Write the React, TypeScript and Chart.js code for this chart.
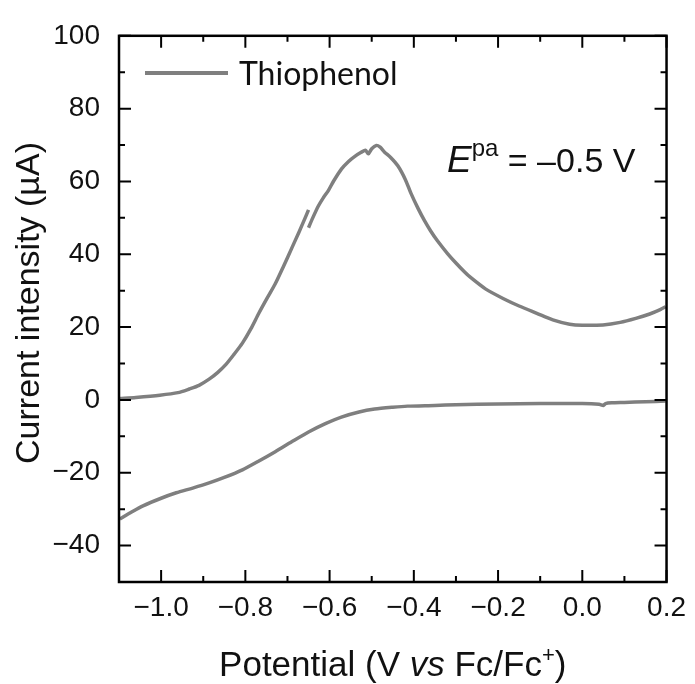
import React, { useEffect, useRef } from 'react';
import { Chart, registerables } from 'chart.js';

Chart.register(...registerables);

// Forward (anodic) scan: starts at -0.65 V, runs to +0.2 V
const anodicX = [-0.650, -0.640, -0.627, -0.615, -0.603, -0.590, -0.572, -0.555, -0.540, -0.525, -0.515, -0.508, -0.500, -0.489, -0.480, -0.470, -0.455, -0.438, -0.420, -0.407, -0.390, -0.375, -0.360, -0.344, -0.320, -0.300, -0.280, -0.266, -0.230, -0.187, -0.150, -0.108, -0.070, -0.030, 0.000, 0.049, 0.090, 0.127, 0.160, 0.185, 0.198];
const anodicY = [47.3, 50.0, 53.2, 55.5, 57.5, 60.2, 63.4, 65.5, 66.9, 68.0, 68.6, 67.6, 69.0, 69.9, 69.4, 68.1, 66.6, 64.3, 60.5, 56.8, 52.6, 49.3, 46.4, 43.7, 40.2, 37.6, 35.2, 33.7, 30.5, 27.8, 25.8, 23.8, 22.0, 20.8, 20.5, 20.6, 21.3, 22.4, 23.6, 24.8, 25.6];

// Reverse (cathodic) scan: +0.2 V back to -1.1 V
const cathodicX = [0.198, 0.150, 0.100, 0.070, 0.055, 0.050, 0.040, 0.000, -0.100, -0.200, -0.300, -0.350, -0.415, -0.450, -0.493, -0.530, -0.572, -0.610, -0.650, -0.690, -0.729, -0.770, -0.807, -0.850, -0.886, -0.925, -0.964, -1.000, -1.043, -1.070, -1.098];
const cathodicY = [-0.3, -0.5, -0.7, -0.8, -1.0, -1.5, -1.2, -1.0, -1.0, -1.1, -1.3, -1.5, -1.7, -2.0, -2.5, -3.3, -4.7, -6.5, -8.8, -11.5, -14.2, -16.9, -19.2, -21.3, -22.8, -24.2, -25.5, -27.0, -29.1, -30.8, -32.7];

// Final forward scan: -1.1 V up to -0.65 V
const returnX = [-1.098, -1.060, -1.003, -0.960, -0.933, -0.910, -0.886, -0.866, -0.846, -0.827, -0.807, -0.787, -0.768, -0.749, -0.729, -0.709, -0.689, -0.673, -0.658, -0.650];
const returnY = [0.4, 0.7, 1.3, 2.0, 3.0, 4.0, 5.7, 7.5, 9.75, 12.5, 15.6, 19.5, 23.8, 27.8, 31.9, 36.8, 41.9, 46.0, 50.0, 52.2];

const xMajorTicks = [-1.0, -0.8, -0.6, -0.4, -0.2, 0.0, 0.2];
const xMinorTicks = [-0.9, -0.7, -0.5, -0.3, -0.1, 0.1];
const yMajorTicks = [-40, -20, 0, 20, 40, 60, 80, 100];
const yMinorTicks = [-30, -10, 10, 30, 50, 70, 90];

const seriesName = 'Thiophenol';
const xTitle = 'Potential (V vs Fc/Fc+)';
const yTitle = 'Current intensity (\u00b5A)';
const annotation = 'Epa = \u20130.5 V';

const LINE_COLOR = '#7f7f7f';
const FONT = '"Liberation Sans", Arial, sans-serif';

const pts = (xs: number[], ys: number[]) => xs.map((x, i) => ({ x, y: ys[i] }));
const fmt = (v: number, d: number) => (v < 0 ? '\u2212' : '') + Math.abs(v).toFixed(d);

type Seg = { t: string; f: string; dy?: number };
function drawRich(ctx: CanvasRenderingContext2D, segs: Seg[], x: number, y: number, align: 'left' | 'center') {
  let total = 0;
  for (const s of segs) { ctx.font = s.f; total += ctx.measureText(s.t).width; }
  let cx = align === 'center' ? x - total / 2 : x;
  ctx.textAlign = 'left';
  ctx.textBaseline = 'alphabetic';
  for (const s of segs) {
    ctx.font = s.f;
    ctx.fillText(s.t, cx, y + (s.dy || 0));
    cx += ctx.measureText(s.t).width;
  }
}

const framePlugin = {
  id: 'frame',
  afterDraw(chart: any) {
    const { ctx, chartArea: a, scales } = chart;
    const xs = scales.x, ys = scales.y;
    ctx.save();
    ctx.strokeStyle = '#000';
    ctx.lineWidth = 2.5;
    ctx.strokeRect(a.left, a.top, a.right - a.left, a.bottom - a.top);
    ctx.lineWidth = 2;
    const tick = (vals: number[], len: number) => {
      for (const v of vals) {
        const px = xs.getPixelForValue(v);
        ctx.beginPath();
        ctx.moveTo(px, a.bottom); ctx.lineTo(px, a.bottom - len);
        ctx.moveTo(px, a.top); ctx.lineTo(px, a.top + len);
        ctx.stroke();
      }
    };
    const ytick = (vals: number[], len: number) => {
      for (const v of vals) {
        const py = ys.getPixelForValue(v);
        ctx.beginPath();
        ctx.moveTo(a.left, py); ctx.lineTo(a.left + len, py);
        ctx.moveTo(a.right, py); ctx.lineTo(a.right - len, py);
        ctx.stroke();
      }
    };
    tick(xMajorTicks, 12); tick(xMinorTicks, 6);
    ytick(yMajorTicks, 12); ytick(yMinorTicks, 6);

    // legend
    ctx.strokeStyle = LINE_COLOR;
    ctx.lineWidth = 4;
    ctx.beginPath(); ctx.moveTo(145, 73); ctx.lineTo(228, 73); ctx.stroke();
    ctx.fillStyle = '#111';
    ctx.font = '32px Lato, "Open Sans", sans-serif';
    ctx.textAlign = 'left'; ctx.textBaseline = 'alphabetic';
    ctx.fillText(seriesName, 239, 85);

    // annotation E^pa = -0.5 V
    const ann = annotation.split(' = ');
    drawRich(ctx, [
      { t: ann[0].charAt(0), f: 'italic 37px ' + FONT },
      { t: ann[0].slice(1), f: '24px ' + FONT, dy: -16 },
      { t: ' = ' + ann[1], f: '34px ' + FONT },
    ], 447, 172, 'left');

    // x title
    const m = xTitle.match(/^(.*\()(V )(vs)( Fc\/Fc)(\+)(\))$/);
    if (m) {
      drawRich(ctx, [
        { t: m[1] + m[2], f: '35px ' + FONT },
        { t: m[3], f: 'italic 35px ' + FONT },
        { t: m[4], f: '35px ' + FONT },
        { t: m[5], f: '22px ' + FONT, dy: -14 },
        { t: m[6], f: '35px ' + FONT },
      ], (a.left + a.right) / 2, 676, 'center');
    }

    // y title
    ctx.save();
    ctx.translate(39, 303);
    ctx.rotate(-Math.PI / 2);
    ctx.font = '34px ' + FONT;
    ctx.textAlign = 'center';
    ctx.textBaseline = 'alphabetic';
    ctx.fillText(yTitle, 0, 0);
    ctx.restore();
    ctx.restore();
  },
};

export default function App() {
  const ref = useRef<HTMLCanvasElement>(null);
  useEffect(() => {
    if (!ref.current) return;
    const ds = (data: any[]) => ({
      data,
      borderColor: LINE_COLOR,
      borderWidth: 3.5,
      pointRadius: 0,
      tension: 0.25,
      fill: false,
      borderJoinStyle: 'round' as const,
    });
    const chart = new Chart(ref.current, {
      type: 'line',
      data: {
        datasets: [
          { label: seriesName, ...ds(pts(anodicX, anodicY)) },
          { label: seriesName + ' reverse', ...ds(pts(cathodicX, cathodicY)) },
          { label: seriesName + ' end', ...ds(pts(returnX, returnY)) },
        ],
      },
      options: {
        animation: false,
        responsive: false,
        devicePixelRatio: 1,
        layout: { padding: { left: 0, top: 29, right: 24, bottom: 0 } },
        plugins: { legend: { display: false }, tooltip: { enabled: false } },
        scales: {
          x: {
            type: 'linear',
            min: -1.1,
            max: 0.2,
            grid: { display: false, drawTicks: false },
            border: { display: false },
            afterBuildTicks: (s: any) => { s.ticks = xMajorTicks.map((v) => ({ value: v })); },
            afterFit: (s: any) => { s.height = 102; },
            ticks: {
              padding: 9,
              maxRotation: 0,
              autoSkip: false,
              color: '#111',
              font: { family: FONT, size: 28 },
              callback: (v: any) => fmt(Number(v), 1),
            },
          },
          y: {
            type: 'linear',
            min: -50,
            max: 100,
            grid: { display: false, drawTicks: false },
            border: { display: false },
            afterBuildTicks: (s: any) => { s.ticks = yMajorTicks.map((v) => ({ value: v })); },
            afterFit: (s: any) => { s.width = 119; },
            ticks: {
              padding: 19,
              autoSkip: false,
              color: '#111',
              font: { family: FONT, size: 28 },
              callback: (v: any) => fmt(Number(v), 0),
            },
          },
        },
      },
      plugins: [framePlugin],
    });
    return () => chart.destroy();
  }, []);
  return (
    <div style={{ position: 'absolute', left: 0, top: 0, width: 695, height: 684, background: '#fff' }}>
      <canvas ref={ref} width={695} height={684} style={{ display: 'block' }} />
    </div>
  );
}
